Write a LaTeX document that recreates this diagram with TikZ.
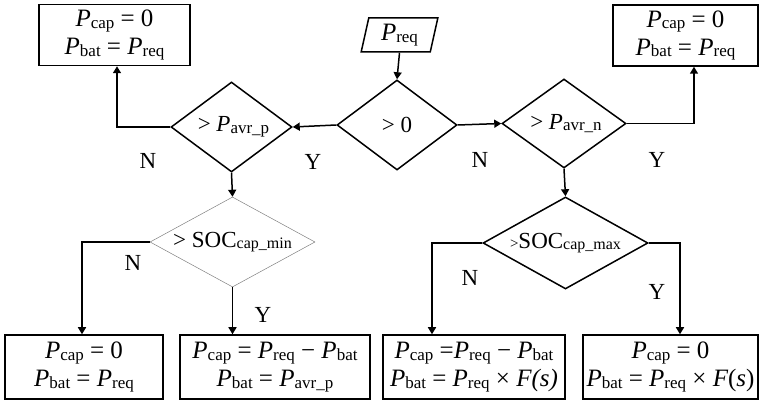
\documentclass[tikz,border=0pt]{standalone}
\usepackage{fontspec}
\setmainfont{Liberation Serif}
\usetikzlibrary{shapes.geometric,arrows.meta}
\newcommand\Pv[1]{{\itshape P}\raisebox{-1.5pt}{\fontsize{17}{17}\selectfont #1}}
\newcommand\Sb[1]{\raisebox{-1.5pt}{\fontsize{16}{16}\selectfont #1}}
\begin{document}
\begin{tikzpicture}[x=1pt,y=-1pt,
  box/.style={draw, line width=1.5pt, minimum height=61pt, inner sep=0pt, align=center, font=\fontsize{25}{28}\selectfont},
  dia/.style={draw, diamond, line width=1.5pt, inner sep=0pt},
  grdia/.style={draw=gray, diamond, line width=0.5pt, inner sep=0pt},
  dtext/.style={inner sep=0pt, font=\fontsize{23}{24}\selectfont},
  arr/.style={line width=1.5pt, -{Triangle[length=7pt,width=8pt]}},
  lab/.style={font=\fontsize{23}{23}\selectfont, inner sep=0pt}]
\useasboundingbox (0,0) rectangle (761,403);

% top boxes
\node[box, minimum width=151pt] (tl) at (114.5,35) {\Pv{cap} = 0\\ \Pv{bat} = \Pv{req}};
\node[box, minimum width=145pt] (tr) at (685.5,35.5) {\Pv{cap} = 0\\ \Pv{bat} = \Pv{req}};

% input
\node[draw, trapezium, trapezium left angle=78, trapezium right angle=102, trapezium stretches=true,
      minimum width=77pt, minimum height=34pt, line width=1.5pt, inner sep=0pt,
      font=\fontsize{25}{26}\selectfont] (preq) at (399.5,35) {\Pv{req}};

% diamonds
\node[dia, minimum width=120pt, minimum height=90pt] (d0) at (397,125) {};
\node[dtext] (d0t) at (d0) {> 0};
\node[dia, minimum width=121pt, minimum height=90pt] (dp) at (231.5,127) {};
\node[dtext] (dpt) at ([xshift=2pt]dp.center) {> \Pv{avr\_p}};
\node[dia, minimum width=124pt, minimum height=89pt] (dn) at (564,123.5) {};
\node[dtext] (dnt) at ([xshift=2pt]dn.center) {> \Pv{avr\_n}};
\node[grdia, minimum width=165pt, minimum height=90pt] (dmin) at (232.5,242) {};
\node[dtext] (dmint) at (dmin) {> SOC\Sb{cap\_min}};
\node[dia, minimum width=165pt, minimum height=92pt] (dmax) at (565.5,243) {};
\node[dtext] (dmaxt) at (dmax) {{\fontsize{15}{15}\selectfont >}SOC\Sb{cap\_max}};

% bottom boxes
\node[box, minimum width=158pt, minimum height=64pt] (b1) at (84,367) {\Pv{cap} = 0\\ \Pv{bat} = \Pv{req}};
\node[box, minimum width=190pt, minimum height=64pt] (b2) at (275,367) {\Pv{cap} = \Pv{req} − \Pv{bat}\\ \Pv{bat} = \Pv{avr\_p}};
\node[box, minimum width=182pt, minimum height=64pt] (b3) at (474,367) {\Pv{cap} =\Pv{req} − \Pv{bat}\\ \Pv{bat} = \Pv{req} × {\itshape F(s)}};
\node[box, minimum width=175pt, minimum height=64pt] (b4) at (670.5,367) {\Pv{cap} = 0\\ \Pv{bat} = \Pv{req} × {\itshape F}(\textit{s})};

% connectors
\draw[arr] (preq.south) -- (d0.north);
\draw[arr] (d0.west) -- (dp.east);
\draw[arr] (d0.east) -- (dn.west);
\draw[arr] (dp.west) -| ([xshift=2.5pt]tl.south);
\draw[arr] (dn.east) -| ([xshift=8.5pt]tr.south);
\draw[arr] (dp.south) -- (dmin.north);
\draw[arr] (dn.south) -- (dmax.north);
\draw[arr] (dmin.west) -| ([xshift=-2pt]b1.north);
\draw[arr] (dmin.south) -- (dmin.south |- b2.north);
\draw[arr] (dmax.west) -| ([xshift=-42pt]b3.north);
\draw[arr] (dmax.east) -| ([xshift=9.5pt]b4.north);

% labels
\node[lab] (l1) at (148,161) {N};
\node[lab] (l2) at (313,162) {Y};
\node[lab] (l3) at (480,160) {N};
\node[lab] (l4) at (657,160) {Y};
\node[lab] (l5) at (133,263) {N};
\node[lab] (l6) at (263,315) {Y};
\node[lab] (l7) at (470,278) {N};
\node[lab] (l8) at (657,292) {Y};
\end{tikzpicture}
\end{document}
